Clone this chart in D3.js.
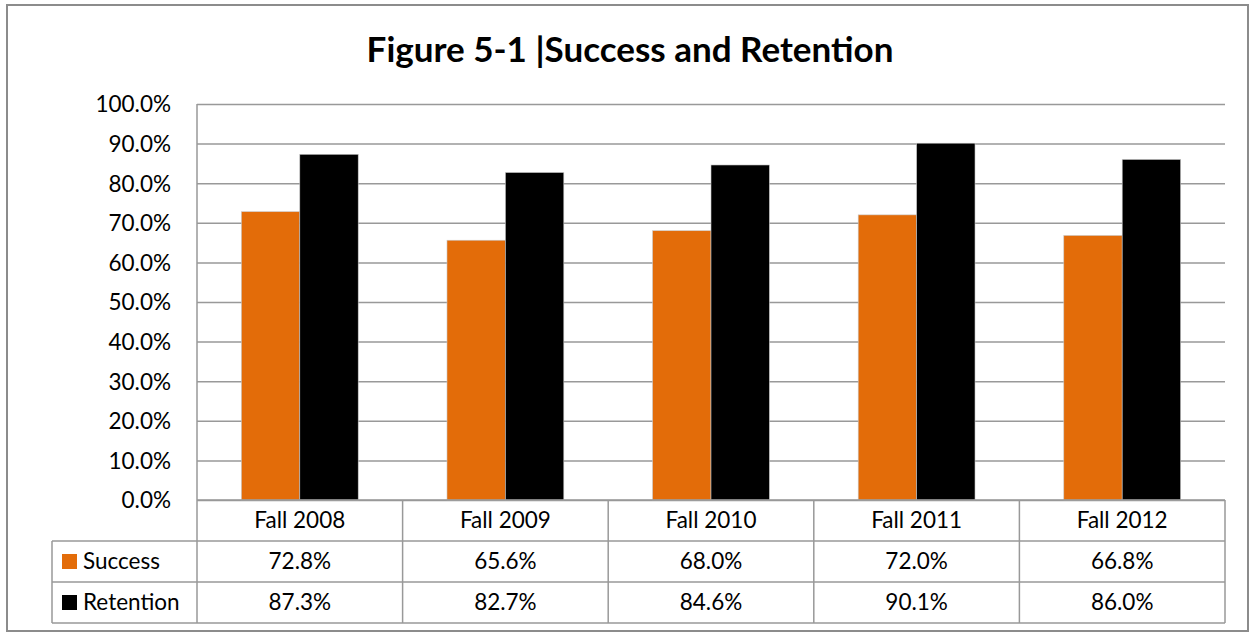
<!DOCTYPE html>
<html>
<head>
<meta charset="utf-8">
<script src="https://cdn.jsdelivr.net/npm/d3@7"></script>
<style>
body { margin:0; background:#fff; }
svg text { font-family: Lato, "Open Sans", sans-serif; fill:#000; }
</style>
</head>
<body>
<svg id="chart"></svg>
<script>
// chart values
var categories = ["Fall 2008","Fall 2009","Fall 2010","Fall 2011","Fall 2012"];
var seriesNames = ["Success","Retention"];
var success = [72.8,65.6,68.0,72.0,66.8];
var retention = [87.3,82.7,84.6,90.1,86.0];
var yTicks = [0,10,20,30,40,50,60,70,80,90,100];
var colors = ["#E36C09","#000000"];

var screen = {width:1250, height:633};
var plot = {left:197, right:1225, top:104, bottom:500};
var rowH = 41;
var fontSize = "22.5px";

var svg = d3.select("#chart")
    .attr("width",screen.width)
    .attr("height",screen.height);

// outer frame
svg.append("rect")
    .attr("x",7).attr("y",5)
    .attr("width",1241).attr("height",626)
    .attr("fill","none")
    .attr("stroke","#8c8c8c")
    .attr("stroke-width",2);

svg.append("text")
    .attr("x",630).attr("y",62)
    .attr("text-anchor","middle")
    .style("font-size","35px")
    .style("font-weight","bold")
    .text("Figure 5-1 |Success and Retention");

var xScale = d3.scaleBand()
    .domain(categories)
    .range([plot.left,plot.right]);

var inner = d3.scaleBand()
    .domain(seriesNames)
    .range([0,xScale.bandwidth()])
    .paddingOuter(0.76);

var yScale = d3.scaleLinear()
    .domain([0,100])
    .range([plot.bottom,plot.top]);

// gridlines
var yAxis = d3.axisLeft(yScale)
    .tickValues(yTicks)
    .tickSize(-(plot.right-plot.left))
    .tickPadding(26)
    .tickFormat(function(d){ return d.toFixed(1)+"%"; });

var ga = svg.append("g")
    .attr("transform","translate("+plot.left+",0)")
    .call(yAxis);
ga.select(".domain").remove();
ga.selectAll(".tick line")
    .attr("stroke","#999")
    .attr("stroke-width",1.5);
ga.selectAll(".tick text")
    .style("font-size",fontSize)
    .attr("dy","0.35em");

var series = [success,retention];

// bars
seriesNames.forEach(function(name,si)
{
    svg.append("g")
        .selectAll("rect")
        .data(series[si])
        .enter()
        .append("rect")
        .attr("x",function(d,i){ return xScale(categories[i])+inner(name); })
        .attr("y",function(d){ return yScale(d); })
        .attr("width",inner.bandwidth())
        .attr("height",function(d){ return yScale(0)-yScale(d); })
        .attr("fill",colors[si])
        .attr("stroke","#c8c8c8")
        .attr("stroke-width",0.6);
});

// y axis line (runs down through the table)
svg.append("line")
    .attr("x1",plot.left).attr("x2",plot.left)
    .attr("y1",plot.top).attr("y2",plot.bottom+rowH*3)
    .attr("stroke","#999").attr("stroke-width",1.5);

// data table
var tableLeft = 52;
var tbl = svg.append("g");
var lineStyle = function(sel)
{
    sel.attr("stroke","#999").attr("stroke-width",1.5);
};

// horizontal lines
[0,1,2,3].forEach(function(r)
{
    var y = plot.bottom+r*rowH;
    tbl.append("line")
        .attr("x1",r==0 ? plot.left : tableLeft)
        .attr("x2",plot.right)
        .attr("y1",y).attr("y2",y)
        .call(lineStyle);
});
// vertical lines
categories.forEach(function(c)
{
    var x = xScale(c)+xScale.bandwidth();
    tbl.append("line")
        .attr("x1",x).attr("x2",x)
        .attr("y1",plot.bottom).attr("y2",plot.bottom+rowH*3)
        .call(lineStyle);
});
tbl.append("line")
    .attr("x1",tableLeft).attr("x2",tableLeft)
    .attr("y1",plot.bottom+rowH).attr("y2",plot.bottom+rowH*3)
    .call(lineStyle);

// header row
tbl.selectAll(".cat")
    .data(categories)
    .enter()
    .append("text")
    .attr("x",function(d){ return xScale(d)+xScale.bandwidth()/2; })
    .attr("y",plot.bottom+rowH/2)
    .attr("dy","0.35em")
    .attr("text-anchor","middle")
    .style("font-size",fontSize)
    .text(function(d){ return d; });

// value rows with legend keys
seriesNames.forEach(function(name,si)
{
    var yMid = plot.bottom+rowH*(si+1)+rowH/2;
    tbl.append("rect")
        .attr("x",62).attr("y",yMid-7.5)
        .attr("width",15).attr("height",15)
        .attr("fill",colors[si]);
    tbl.append("text")
        .attr("x",83).attr("y",yMid)
        .attr("dy","0.35em")
        .style("font-size",fontSize)
        .text(name);
    tbl.selectAll(".v"+si)
        .data(series[si])
        .enter()
        .append("text")
        .attr("x",function(d,i){ return xScale(categories[i])+xScale.bandwidth()/2; })
        .attr("y",yMid)
        .attr("dy","0.35em")
        .attr("text-anchor","middle")
        .style("font-size",fontSize)
        .text(function(d){ return d.toFixed(1)+"%"; });
});
</script>
</body>
</html>
